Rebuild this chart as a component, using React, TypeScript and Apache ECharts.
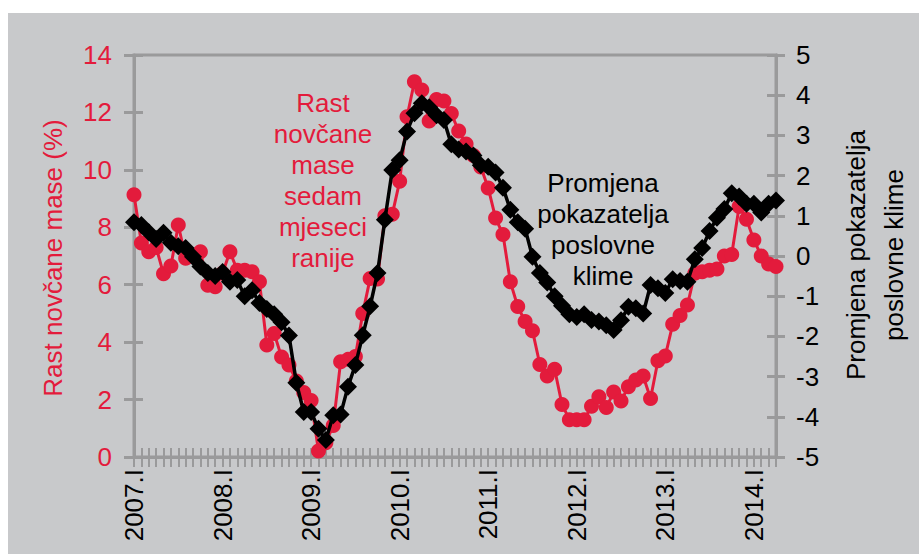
import React, { useEffect, useRef } from "react";
import * as echarts from "echarts";

const years = ["2007", "2008", "2009", "2010", "2011", "2012", "2013", "2014"];
const months = ["I", "II", "III", "IV", "V", "VI", "VII", "VIII", "IX", "X", "XI", "XII"];
const monthCount = 88;

const categories: string[] = [];
for (let i = 0; i < monthCount; i++) {
  categories.push(years[Math.floor(i / 12)] + "." + months[i % 12]);
}

// Rast novčane mase sedam mjeseci ranije (%), left axis
const moneyGrowth = [
  9.13, 7.45, 7.15, 7.3, 6.38, 6.65, 8.08, 6.92, 7.0, 7.15, 5.98, 5.93,
  6.4, 7.15, 6.5, 6.5, 6.45, 6.1, 3.9, 4.3, 3.48, 3.2, 2.65, 2.25,
  1.97, 0.21, 0.5, 1.1, 3.32, 3.4, 3.5, 5.0, 6.22, 6.2, 8.4, 8.45,
  9.6, 11.85, 13.07, 12.78, 11.7, 12.45, 12.4, 11.96, 11.35, 10.9, 10.5, 10.1,
  9.37, 8.32, 7.75, 6.1, 5.24, 4.72, 4.4, 3.22, 2.82, 3.06, 1.83, 1.3,
  1.3, 1.3, 1.77, 2.1, 1.72, 2.26, 1.95, 2.45, 2.68, 2.82, 2.04, 3.35,
  3.52, 4.62, 4.93, 5.29, 6.4, 6.45, 6.5, 6.55, 7.0, 7.05, 8.72, 8.28,
  7.56, 7.0, 6.72, 6.63,
];

// Promjena pokazatelja poslovne klime, right axis
const climateChange = [
  0.84, 0.77, 0.59, 0.42, 0.58, 0.33, 0.24, 0.2, -0.02, -0.26, -0.42, -0.5,
  -0.4, -0.64, -0.6, -1.0, -0.85, -1.17, -1.32, -1.45, -1.65, -1.98, -3.15, -3.88,
  -3.88, -4.3, -4.58, -3.96, -3.94, -3.25, -2.71, -1.97, -1.25, -0.42, 0.9, 2.14,
  2.38, 3.1, 3.55, 3.8, 3.7, 3.5, 3.38, 2.78, 2.65, 2.6, 2.5, 2.26,
  2.22, 2.08, 1.7, 1.15, 0.84, 0.68, -0.02, -0.42, -0.66, -1.0, -1.24, -1.45,
  -1.52, -1.45, -1.59, -1.63, -1.72, -1.84, -1.6, -1.26, -1.3, -1.43, -0.72, -0.8,
  -0.92, -0.58, -0.62, -0.64, -0.08, 0.2, 0.62, 0.95, 1.17, 1.56, 1.48, 1.3,
  1.3, 1.08, 1.3, 1.38,
];

const leftTitle = "Rast novčane mase (%)";
const rightTitle = "Promjena pokazatelja\nposlovne klime";
const redNote = "Rast\nnovčane\nmase\nsedam\nmjeseci\nranije";
const blackNote = "Promjena\npokazatelja\nposlovne\nklime";

const RED = "#e31b3c";
const GRAY = "#9a9a9b";
const BG = "#c8c9cb";
const FONT = "'Liberation Sans', Arial, sans-serif";

export default function App() {
  const ref = useRef<HTMLDivElement>(null);

  useEffect(() => {
    if (!ref.current) return;
    const chart = echarts.init(ref.current, null, { renderer: "svg" });
    const grid = { left: 126, right: 143, top: 42, bottom: 97 };
    chart.setOption({
      animation: false,
      backgroundColor: BG,
      textStyle: { fontFamily: FONT },
      grid: {
        ...grid,
        show: true,
        borderColor: GRAY,
        borderWidth: 3,
        backgroundColor: "transparent",
      },
      xAxis: [
        {
          type: "category",
          data: categories,
          boundaryGap: false,
          position: "bottom",
          axisLine: { show: true, onZero: false, lineStyle: { color: GRAY, width: 3 } },
          axisTick: { show: true, interval: 0, length: 10, inside: false, lineStyle: { color: GRAY, width: 2 } },
          axisLabel: {
            interval: 11,
            rotate: 90,
            margin: 12,
            color: "#000",
            fontSize: 26,
            fontFamily: FONT,
          },
          splitLine: { show: false },
        },
        {
          type: "category",
          data: categories,
          boundaryGap: false,
          position: "bottom",
          axisLine: { show: false, onZero: false },
          axisTick: { show: true, interval: 0, length: 9, inside: true, lineStyle: { color: GRAY, width: 2 } },
          axisLabel: { show: false },
          splitLine: { show: false },
        },
      ],
      yAxis: [
        {
          type: "value",
          position: "left",
          min: 0,
          max: 14,
          interval: 2,
          axisLine: { show: true, onZero: false, lineStyle: { color: GRAY, width: 3 } },
          axisTick: { show: true, length: 10, lineStyle: { color: GRAY, width: 3 } },
          axisLabel: { color: RED, fontSize: 26, margin: 22, fontFamily: FONT },
          splitLine: { show: false },
        },
        {
          type: "value",
          position: "right",
          min: -5,
          max: 5,
          interval: 1,
          axisLine: { show: true, onZero: false, lineStyle: { color: GRAY, width: 3 } },
          axisTick: { show: true, length: 9, lineStyle: { color: GRAY, width: 3 } },
          axisLabel: { color: "#000", fontSize: 26, margin: 20, fontFamily: FONT },
          splitLine: { show: false },
        },
        {
          type: "value",
          position: "left",
          min: 0,
          max: 14,
          interval: 2,
          axisLine: { show: false, onZero: false },
          axisTick: { show: true, inside: true, length: 9, lineStyle: { color: GRAY, width: 3 } },
          axisLabel: { show: false },
          splitLine: { show: false },
        },
        {
          type: "value",
          position: "right",
          min: -5,
          max: 5,
          interval: 1,
          axisLine: { show: false, onZero: false },
          axisTick: { show: true, inside: true, length: 9, lineStyle: { color: GRAY, width: 3 } },
          axisLabel: { show: false },
          splitLine: { show: false },
        },
      ],
      series: [
        {
          name: "Rast novčane mase",
          type: "line",
          xAxisIndex: 0,
          yAxisIndex: 0,
          data: moneyGrowth,
          symbol: "circle",
          symbolSize: 15,
          showAllSymbol: true,
          lineStyle: { color: RED, width: 3 },
          itemStyle: { color: RED },
          z: 3,
        },
        {
          name: "Promjena pokazatelja poslovne klime",
          type: "line",
          xAxisIndex: 0,
          yAxisIndex: 1,
          data: climateChange,
          symbol: "diamond",
          symbolSize: 18,
          showAllSymbol: true,
          lineStyle: { color: "#000", width: 3.5 },
          itemStyle: { color: "#000" },
          z: 4,
        },
      ],
      graphic: [
        {
          type: "text",
          x: 45,
          y: 245,
          rotation: Math.PI / 2,
          style: {
            text: leftTitle,
            fill: RED,
            font: `26px ${FONT}`,
            align: "center",
            verticalAlign: "middle",
          },
        },
        {
          type: "text",
          x: 867,
          y: 242,
          rotation: Math.PI / 2,
          style: {
            text: rightTitle,
            fill: "#000",
            font: `26px ${FONT}`,
            lineHeight: 38,
            align: "center",
            verticalAlign: "middle",
          },
        },
        {
          type: "text",
          x: 315,
          y: 167,
          style: {
            text: redNote,
            fill: RED,
            font: `26px ${FONT}`,
            lineHeight: 31,
            align: "center",
            verticalAlign: "middle",
          },
        },
        {
          type: "text",
          x: 595,
          y: 216,
          style: {
            text: blackNote,
            fill: "#000",
            font: `26px ${FONT}`,
            lineHeight: 31,
            align: "center",
            verticalAlign: "middle",
          },
        },
      ],
    });
    return () => chart.dispose();
  }, []);

  return (
    <div style={{ position: "fixed", left: 0, top: 0, width: 919, height: 554, background: "#fff" }}>
      <div ref={ref} style={{ position: "absolute", left: 8, top: 13, width: 911, height: 541 }} />
    </div>
  );
}
